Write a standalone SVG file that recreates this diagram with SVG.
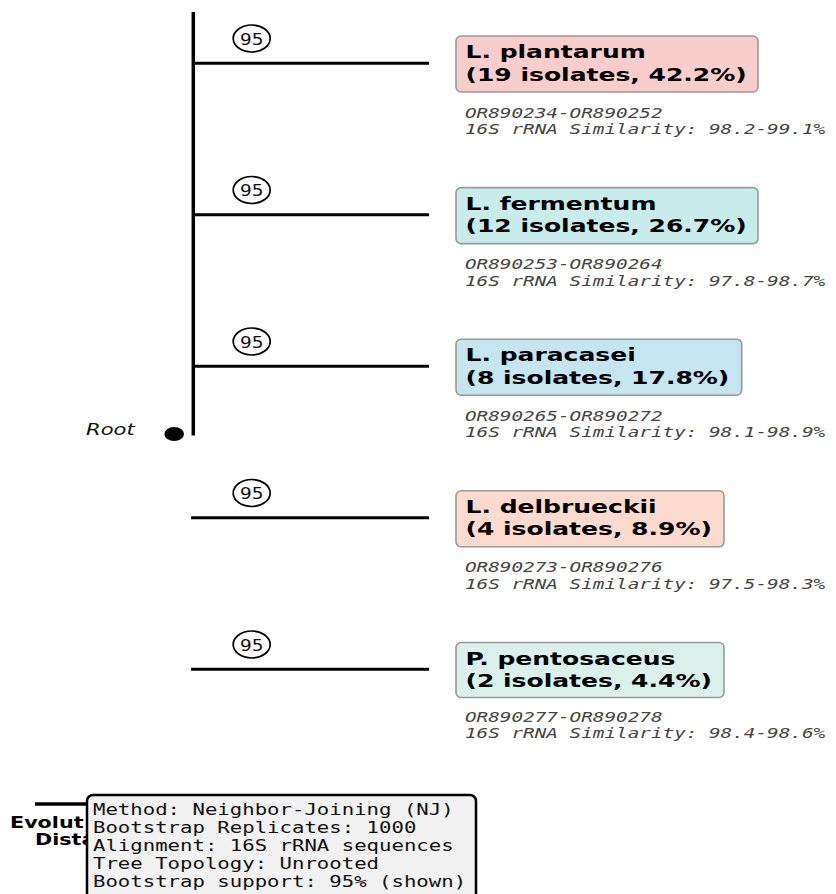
<svg xmlns="http://www.w3.org/2000/svg" width="836" height="894" viewBox="0 0 836 894">
<style>
.br{fill:none;stroke:#000;stroke-width:3}
.bc{fill:#fff;stroke:#000;stroke-width:1.7}
.bt{font-family:"DejaVu Sans",sans-serif;font-size:16.5px;fill:#111;text-anchor:middle}
.box{stroke:#9a9a9a;stroke-width:1.6}
.nm{font-family:"DejaVu Sans",sans-serif;font-weight:bold;font-size:18px;fill:#000}
.acc{font-family:"DejaVu Sans Mono",monospace;font-style:italic;font-size:14.2px;fill:#444}
.leg{font-family:"DejaVu Sans Mono",monospace;font-size:16.6px;fill:#111}
.ax{font-family:"DejaVu Sans",sans-serif;font-weight:bold;font-size:15px;fill:#000}
</style>
<rect width="836" height="894" fill="#fff"/>
<g id="connectors">
<line class="br" x1="193.3" y1="12" x2="193.3" y2="435.5" style="stroke-width:3.5"/>
<line class="br" x1="193" y1="63.3" x2="429" y2="63.3"/>
<line class="br" x1="193" y1="214.8" x2="429" y2="214.8"/>
<line class="br" x1="193" y1="366.3" x2="429" y2="366.3"/>
<line class="br" x1="191" y1="517.8" x2="429" y2="517.8"/>
<line class="br" x1="191" y1="669.3" x2="429" y2="669.3"/>
</g>
<g id="bootstrap">
<ellipse class="bc" cx="251.7" cy="38.5" rx="18.5" ry="13.5"/>
<text class="bt" transform="translate(251.7,44.5) scale(1.12,1)">95</text>
<ellipse class="bc" cx="251.7" cy="190" rx="18.5" ry="13.5"/>
<text class="bt" transform="translate(251.7,196) scale(1.12,1)">95</text>
<ellipse class="bc" cx="251.7" cy="341.5" rx="18.5" ry="13.5"/>
<text class="bt" transform="translate(251.7,347.5) scale(1.12,1)">95</text>
<ellipse class="bc" cx="251.7" cy="493" rx="18.5" ry="13.5"/>
<text class="bt" transform="translate(251.7,499) scale(1.12,1)">95</text>
<ellipse class="bc" cx="251.7" cy="644.5" rx="18.5" ry="13.5"/>
<text class="bt" transform="translate(251.7,650.5) scale(1.12,1)">95</text>
</g>
<g id="root">
<ellipse cx="174.2" cy="434" rx="9.8" ry="7" fill="#000"/>
<text transform="translate(86,434.5) scale(1.32,1)" style="font-family:'DejaVu Sans',sans-serif;font-style:italic;font-size:16px;fill:#111">Root</text>
</g>
<g id="node-plantarum">
<rect class="box" x="456" y="36" width="302" height="56" rx="5" fill="#f9cdcc"/>
<text class="nm" transform="translate(465.5,58) scale(1.39,1)">L. plantarum</text>
<text class="nm" transform="translate(465.5,80.5) scale(1.39,1)">(19 isolates, 42.2%)</text>
<text class="acc" transform="translate(465,117.5) scale(1.36,1)">OR890234-OR890252</text>
<text class="acc" transform="translate(465,134.1) scale(1.36,1)">16S rRNA Similarity: 98.2-99.1%</text>
</g>
<g id="node-fermentum">
<rect class="box" x="456" y="187.6" width="302" height="56" rx="5" fill="#c8ece9"/>
<text class="nm" transform="translate(465.5,209.6) scale(1.39,1)">L. fermentum</text>
<text class="nm" transform="translate(465.5,232.1) scale(1.39,1)">(12 isolates, 26.7%)</text>
<text class="acc" transform="translate(465,269.1) scale(1.36,1)">OR890253-OR890264</text>
<text class="acc" transform="translate(465,285.7) scale(1.36,1)">16S rRNA Similarity: 97.8-98.7%</text>
</g>
<g id="node-paracasei">
<rect class="box" x="456" y="339.2" width="285.7" height="56" rx="5" fill="#c5e5f0"/>
<text class="nm" transform="translate(465.5,361.2) scale(1.39,1)">L. paracasei</text>
<text class="nm" transform="translate(465.5,383.7) scale(1.39,1)">(8 isolates, 17.8%)</text>
<text class="acc" transform="translate(465,420.7) scale(1.36,1)">OR890265-OR890272</text>
<text class="acc" transform="translate(465,437.3) scale(1.36,1)">16S rRNA Similarity: 98.1-98.9%</text>
</g>
<g id="node-delbrueckii">
<rect class="box" x="456" y="490.8" width="268" height="56" rx="5" fill="#fcdacd"/>
<text class="nm" transform="translate(465.5,512.8) scale(1.39,1)">L. delbrueckii</text>
<text class="nm" transform="translate(465.5,535.3) scale(1.39,1)">(4 isolates, 8.9%)</text>
<text class="acc" transform="translate(465,572.1) scale(1.36,1)">OR890273-OR890276</text>
<text class="acc" transform="translate(465,588.7) scale(1.36,1)">16S rRNA Similarity: 97.5-98.3%</text>
</g>
<g id="node-pentosaceus">
<rect class="box" x="456" y="642.5" width="268" height="55" rx="5" fill="#d9f1ea"/>
<text class="nm" transform="translate(465.5,665) scale(1.39,1)">P. pentosaceus</text>
<text class="nm" transform="translate(465.5,686.5) scale(1.39,1)">(2 isolates, 4.4%)</text>
<text class="acc" transform="translate(465,721.8) scale(1.36,1)">OR890277-OR890278</text>
<text class="acc" transform="translate(465,738.4) scale(1.36,1)">16S rRNA Similarity: 98.4-98.6%</text>
</g>
<g id="scale-bar">
<line x1="35" y1="804" x2="120" y2="804" stroke="#000" stroke-width="3.5"/>
<text class="ax" transform="translate(10,828) scale(1.38,1)">Evolut</text>
<text class="ax" transform="translate(35,844.6) scale(1.38,1)">Dista</text>
</g>
<g id="legend">
<rect x="87" y="795" width="389" height="120" rx="6" fill="#f2f2f2" stroke="#000" stroke-width="2.5"/>
<text class="leg" transform="translate(93,815.3) scale(1.245,1)">Method: Neighbor-Joining (NJ)</text>
<text class="leg" transform="translate(93,833.2) scale(1.245,1)">Bootstrap Replicates: 1000</text>
<text class="leg" transform="translate(93,851.1) scale(1.245,1)">Alignment: 16S rRNA sequences</text>
<text class="leg" transform="translate(93,869) scale(1.245,1)">Tree Topology: Unrooted</text>
<text class="leg" transform="translate(93,886.9) scale(1.245,1)">Bootstrap support: 95% (shown)</text>
</g>
</svg>
